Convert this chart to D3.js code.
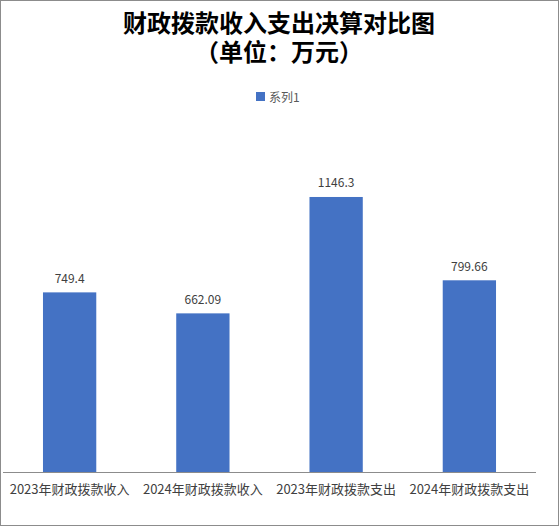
<!DOCTYPE html>
<html>
<head>
<meta charset="utf-8">
<script src="https://cdn.jsdelivr.net/npm/d3@7"></script>
<style>
  body { margin: 0; background: #fff; }
  svg { display: block; }
</style>
</head>
<body>
<svg id="chart"></svg>
<script>
const WIDTH = 560;
const HEIGHT = 527;

// data
const categories = ["2023年财政拨款收入", "2024年财政拨款收入", "2023年财政拨款支出", "2024年财政拨款支出"];
const values = [749.4, 662.09, 1146.3, 799.66];
const valueLabels = ["749.4", "662.09", "1146.3", "799.66"];
const seriesName = "系列1";
const titleLines = ["财政拨款收入支出决算对比图", "（单位：万元）"];

const FONT = "'Noto Sans CJK SC', 'Noto Sans', sans-serif";
const TITLE_FONT = "'Liberation Sans', 'Noto Sans CJK SC', sans-serif";
const plot = { left: 3, right: 536, top: 136, bottom: 472.5 };

const svg = d3.select('#chart')
    .attr("width", WIDTH)
    .attr("height", HEIGHT)
    .style("font-family", FONT);

// outer border
svg.append('rect')
    .attr("x", 0.5).attr("y", 0.5)
    .attr("width", 558).attr("height", 525)
    .attr("fill", "#fff")
    .attr("stroke", "#8c8c8c");

// title, two lines
titleLines.forEach((line, i) => {
    svg.append('text')
        .attr("x", 279)
        .attr("y", 32 + i * 29)
        .attr("text-anchor", "middle")
        .attr("font-family", TITLE_FONT)
        .attr("font-size", 24).attr("font-weight", "bold")
        .attr("fill", "#000")
        .text(line);
});

// legend
const legend = svg.append('g');
legend.append('rect')
    .attr("x", 256).attr("y", 92)
    .attr("width", 9).attr("height", 9)
    .attr("fill", "#4472c4");
legend.append('text')
    .attr("x", 269).attr("y", 96.5)
    .attr("dominant-baseline", "central")
    .attr("font-size", 12)
    .attr("fill", "#595959")
    .text(seriesName);

// scales
const x = d3.scaleBand(categories, [plot.left, plot.right])
    .paddingInner(0.6)
    .paddingOuter(0.3);
const y = d3.scaleLinear([0, 1400], [plot.bottom, plot.top]);

// bars
svg.append('g')
    .selectAll('rect')
    .data(values)
    .enter()
    .append('rect')
    .attr("x", (d, i) => x(categories[i]))
    .attr("y", d => y(d))
    .attr("width", x.bandwidth())
    .attr("height", d => y(0) - y(d))
    .attr("fill", "#4472c4");

// value labels
svg.append('g')
    .selectAll('text')
    .data(values)
    .enter()
    .append('text')
    .attr("x", (d, i) => x(categories[i]) + x.bandwidth() / 2)
    .attr("y", d => y(d) - 15)
    .attr("text-anchor", "middle")
    .attr("dominant-baseline", "central")
    .attr("font-size", 12)
    .attr("fill", "#404040")
    .text((d, i) => valueLabels[i]);

// x axis
const xAxis = svg.append('g')
    .attr('transform', `translate(0, ${plot.bottom})`)
    .call(d3.axisBottom(x).tickSize(0).tickPadding(0));
xAxis.select('.domain').attr("stroke", "#8c8c8c").attr("d", `M${plot.left},0H${plot.right}`);
xAxis.selectAll('text')
    .attr("y", 16)
    .attr("dy", null)
    .attr("dominant-baseline", "central")
    .attr("font-size", 13)
    .attr("font-family", FONT)
    .attr("fill", "#404040");
</script>
</body>
</html>
